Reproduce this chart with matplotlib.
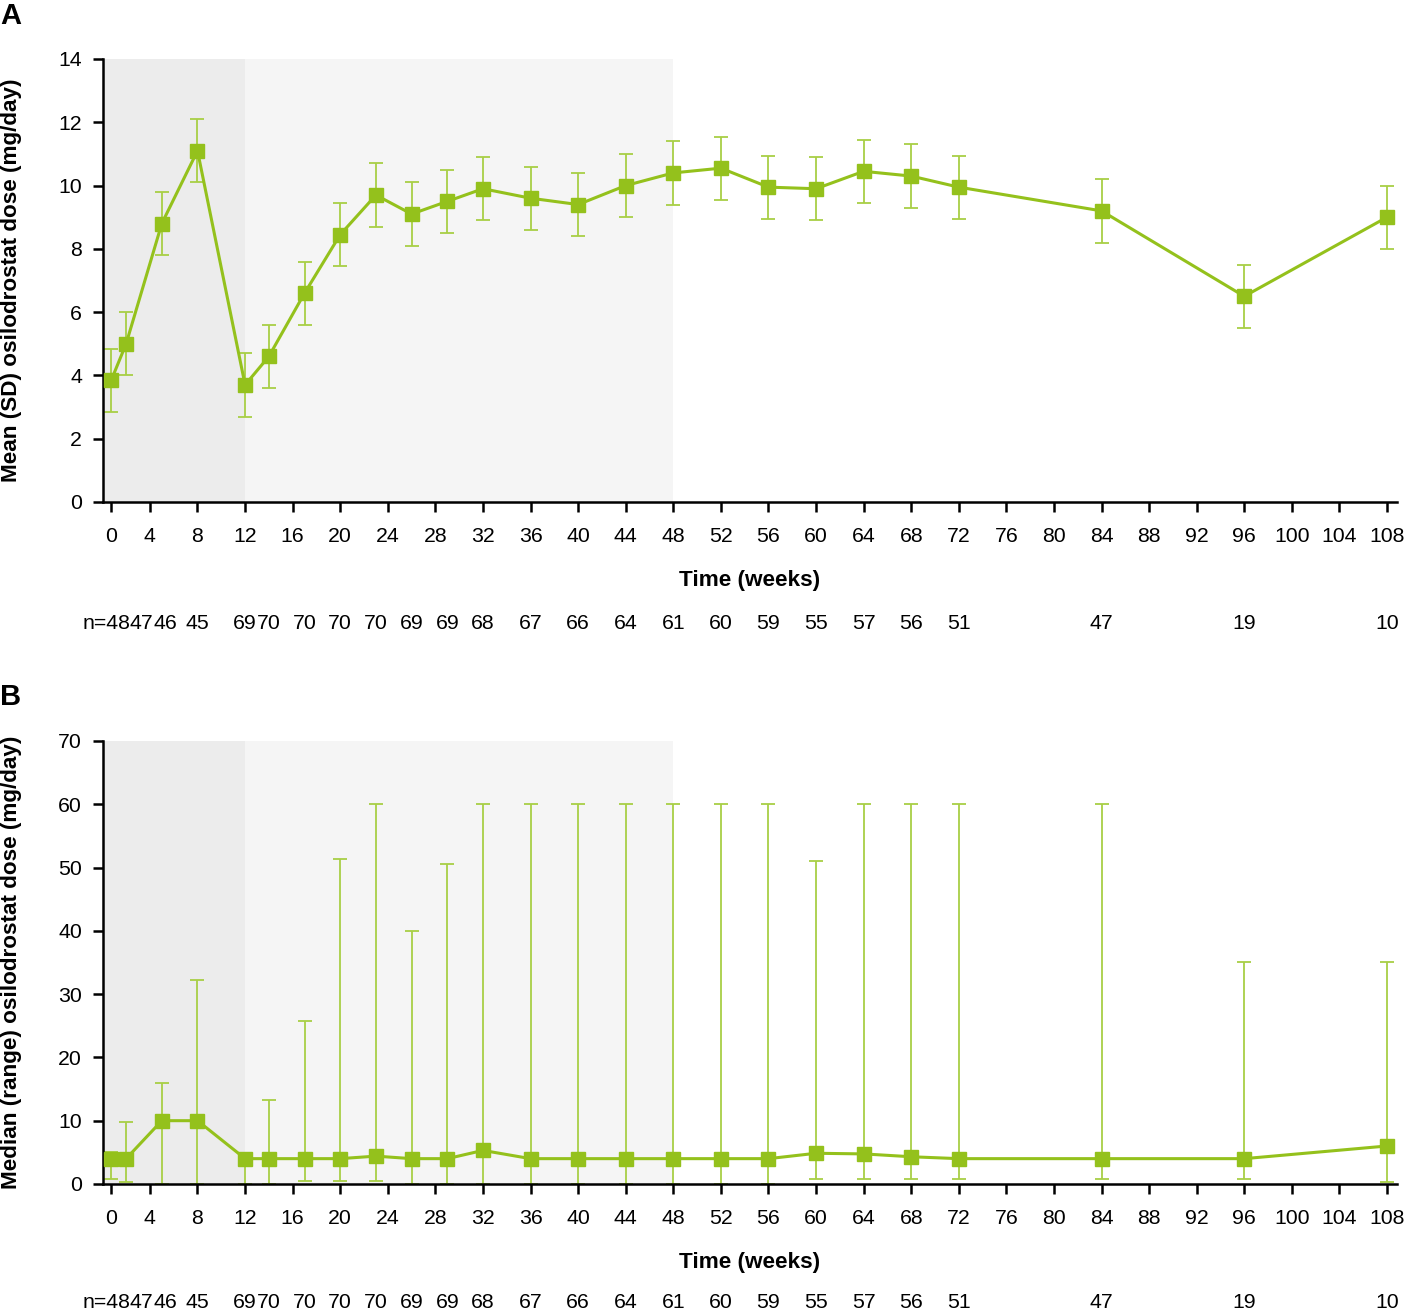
import numpy as np
import matplotlib
matplotlib.use("Agg")
import matplotlib.pyplot as plt

plt.rcParams['font.family'] = ['Liberation Sans', 'DejaVu Sans']

# study weeks of each visit and patients at each visit
weeks = [0, 2, 5, 8, 12, 14, 17, 20, 23, 26, 29, 32, 36, 40, 44, 48, 52, 56, 60, 64, 68, 72, 84, 96, 108]
n_pat = [48, 47, 46, 45, 69, 70, 70, 70, 70, 69, 69, 68, 67, 66, 64, 61, 60, 59, 55, 57, 56, 51, 47, 19, 10]

# panel A: mean (SD)
mean_dose = [3.85, 5.0, 8.8, 11.1, 3.7, 4.6, 6.6, 8.45, 9.7, 9.1, 9.5, 9.9, 9.6, 9.4, 10.0,
             10.4, 10.55, 9.95, 9.9, 10.45, 10.3, 9.95, 9.2, 6.5, 9.0]
sd_dose = [1.0, 1.0, 1.0, 1.0, 1.0, 1.0, 1.0, 1.0, 1.0, 1.0, 1.0, 1.0, 1.0, 1.0, 1.0,
           1.0, 1.0, 1.0, 1.0, 1.0, 1.0, 1.0, 1.0, 1.0, 1.0]

# panel B: median (range)
median_dose = [4, 4, 10, 10, 4, 4, 4, 4, 4.4, 4, 4, 5.3, 4, 4, 4, 4, 4, 4, 4.85, 4.75, 4.3, 4, 4, 4, 6]
min_dose = [0.75, 0.3, 0, 0, 0, 0, 0.4, 0.5, 0.5, 0, 0, 0, 0, 0, 0, 0, 0, 0, 0.8, 0.8, 0.8, 0.8, 0.8, 0.8, 0.3]
max_dose = [5, 9.75, 16, 32.2, 4.5, 13.2, 25.7, 51.4, 60, 40, 50.5, 60, 60, 60, 60, 60, 60, 60, 51, 60, 60, 60, 60, 35, 35]

xticks = list(range(0, 109, 4))

green = "#94c11c"
green_light = "#a8cf45"

# the baseline visit is drawn a bit away from the y axis
wk_pts = [-10, 0, 2, 200]
pos_pts = [-9.25, 0.75, 2, 200]


def fwd(w):
    return np.interp(w, wk_pts, pos_pts)


def inv(u):
    return np.interp(u, pos_pts, wk_pts)


# pixel shifts so the crowded n labels don't overlap
n_shift = [19, 15, 4] + [0] * 22

fig = plt.figure(figsize=(14.04, 13.11), dpi=100)
axA = fig.add_axes([0.0734, 0.6171, 0.9216, 0.3379])
axB = fig.add_axes([0.0734, 0.0969, 0.9216, 0.3379])

px = 72 / 100  # points per pixel
fs = 15.3
fs_lab = 16.2


def draw_panel(ax, y, yerr, ylim, ystep, ylabel, n_drop):
    ax.set_xscale('function', functions=(fwd, inv))
    ax.set_xlim(-0.69, 108.84)
    ax.set_ylim(0, ylim)
    ax.axvspan(-0.69, 12, color="#ececec", lw=0, zorder=0)
    ax.axvspan(12, 48, color="#f5f5f5", lw=0, zorder=0)
    ax.errorbar(weeks, y, yerr=yerr, fmt="none", ecolor=green_light, elinewidth=1.3,
                capsize=5, capthick=1.3, zorder=2)
    ax.plot(weeks, y, color=green, lw=2.2, marker="s", ms=10.5, zorder=3)
    for s in ["top", "right"]:
        ax.spines[s].set_visible(False)
    for s in ["left", "bottom"]:
        ax.spines[s].set_linewidth(1.8)
    ax.set_xticks(xticks)
    ax.set_xticklabels([str(t) for t in xticks])
    ax.set_yticks(np.arange(0, ylim + 1, ystep))
    ax.xaxis.set_minor_locator(matplotlib.ticker.NullLocator())
    ax.tick_params(axis="both", direction="out", length=10 * px, width=1.8, labelsize=fs)
    ax.tick_params(axis="x", pad=11)
    ax.tick_params(axis="y", pad=8)
    ax.set_xlabel("Time (weeks)", fontsize=fs_lab, fontweight="bold", labelpad=17)
    ax.set_ylabel(ylabel, fontsize=fs_lab, fontweight="bold")
    ax.yaxis.set_label_coords(-0.0625, 0.5)
    for i, (w, n) in enumerate(zip(weeks, n_pat)):
        txt = "n=%d" % n if i == 0 else str(n)
        ha = "right" if i == 0 else "center"
        ax.annotate(txt, xy=(w, 0), xycoords=("data", "axes fraction"),
                    xytext=(n_shift[i] * px, -n_drop * px), textcoords="offset points",
                    ha=ha, va="center", fontsize=fs)


draw_panel(axA, mean_dose, sd_dose, 14, 2, "Mean (SD) osilodrostat dose (mg/day)", 122)
lo = [m - a for m, a in zip(median_dose, min_dose)]
hi = [b - m for m, b in zip(median_dose, max_dose)]
draw_panel(axB, median_dose, [lo, hi], 70, 10, "Median (range) osilodrostat dose (mg/day)", 119)

fig.text(0.0, 0.988, "A", fontsize=21, fontweight="bold", ha="left", va="center")
fig.text(0.0, 0.468, "B", fontsize=21, fontweight="bold", ha="left", va="center")

fig.savefig("out.png", dpi=100)
